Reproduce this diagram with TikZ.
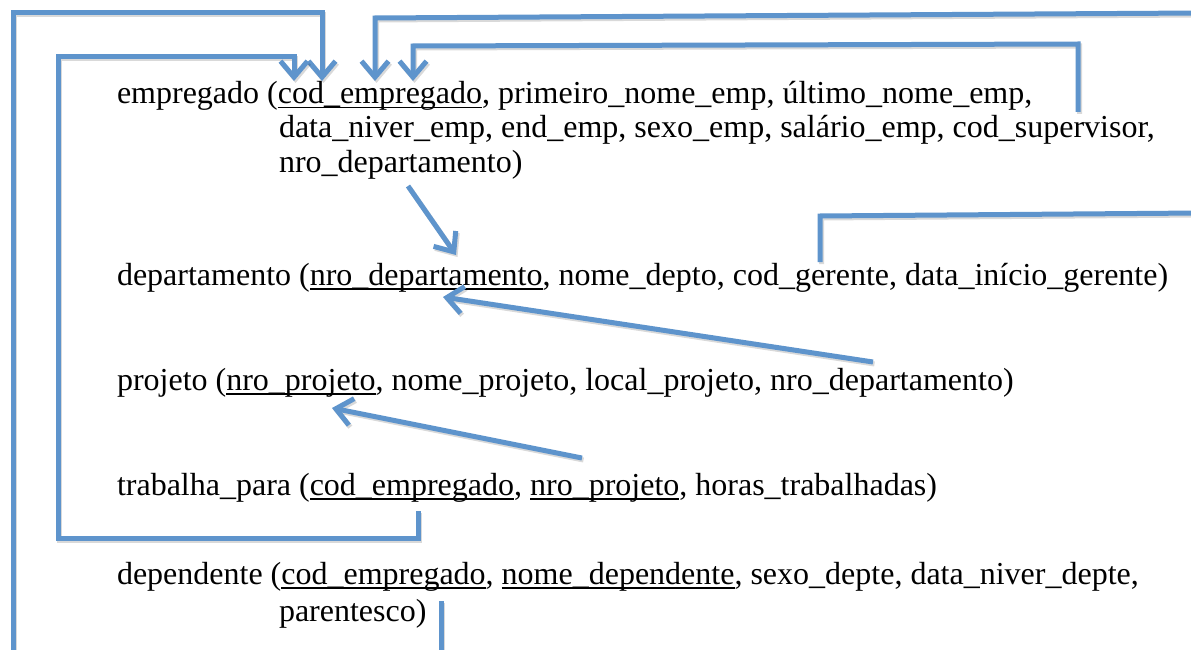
\documentclass[tikz,border=0pt]{standalone}
\usepackage{fontspec}
\setmainfont{Liberation Serif}
\usetikzlibrary{arrows.meta}
\definecolor{conn}{RGB}{94,148,204}
\newcommand{\myul}[1]{\setbox0\hbox{#1}\rlap{\rule[-4.5pt]{\wd0}{1.4pt}}\box0}
\begin{document}
\begin{tikzpicture}[x=1pt,y=-1pt,
  rel/.style={anchor=base west, inner sep=0pt, outer sep=0pt, font=\fontsize{32}{38}\selectfont},
  link/.style={draw=conn, line width=5pt, line join=miter,
    preaction={draw=black, draw opacity=0.15, line width=5pt, transform canvas={shift={(1.5pt,-2pt)}}}},
  arr/.style={link, -{Straight Barb[length=16pt,width=27pt]}}]
\useasboundingbox (0,0) rectangle (1191,650);
\clip (0,0) rectangle (1191,650);
\fill[white] (0,0) rectangle (1191,650);
% relations
\node[rel] (emp1) at (117,104) {empregado (\myul{cod\_empregado}, primeiro\_nome\_emp, último\_nome\_emp,};
\node[rel] (emp2) at (279,138) {data\_niver\_emp, end\_emp, sexo\_emp, salário\_emp, cod\_supervisor,};
\node[rel] (emp3) at (279,172) {nro\_departamento)};
\node[rel] (dep) at (117,285) {departamento (\myul{nro\_departamento}, nome\_depto, cod\_gerente, data\_início\_gerente)};
\node[rel] (proj) at (117,390) {projeto (\myul{nro\_projeto}, nome\_projeto, local\_projeto, nro\_departamento)};
\node[rel] (trab) at (117,495) {trabalha\_para (\myul{cod\_empregado}, \myul{nro\_projeto}, horas\_trabalhadas)};
\node[rel] (dpd1) at (117,584) {dependente (\myul{cod\_empregado}, \myul{nome\_dependente}, sexo\_depte, data\_niver\_depte,};
\node[rel] (dpd2) at (279,621) {parentesco)};
% connector ends
\coordinate (empcodA) at (322,81);
\coordinate (empcodB) at (294,81);
\coordinate (empcodC) at (375,81);
\coordinate (empcodD) at (413,81);
\coordinate (empsup) at (1078,112);
\coordinate (empdep) at (408,186);
\coordinate (depnroA) at (456,255);
\coordinate (depnroB) at (443,297);
\coordinate (depger) at (820,262);
\coordinate (projdep) at (873,362);
\coordinate (projnro) at (332,408);
\coordinate (trabcod) at (418,511);
\coordinate (trabproj) at (582,458);
\coordinate (dpdcod) at (441,601);
\coordinate (edgeA) at (1200,13);
\coordinate (edgeB) at (1200,213);
% connectors
\draw[arr] (dpdcod) -- (441,700) -- (13,700) -- (13,13) -- (322,13) -- (empcodA);
\draw[arr] (trabcod) -- (418,538) -- (58,538) -- (58,57) -- (294,57) -- (empcodB);
\draw[arr] (edgeA) -- (375,18) -- (empcodC);
\draw[arr] (empsup) -- (1078,44) -- (413,46) -- (empcodD);
\draw[link] (depger) -- (820,216) -- (edgeB);
\draw[arr] (empdep) -- (depnroA);
\draw[arr] (projdep) -- (depnroB);
\draw[arr] (trabproj) -- (projnro);
\end{tikzpicture}
\end{document}
